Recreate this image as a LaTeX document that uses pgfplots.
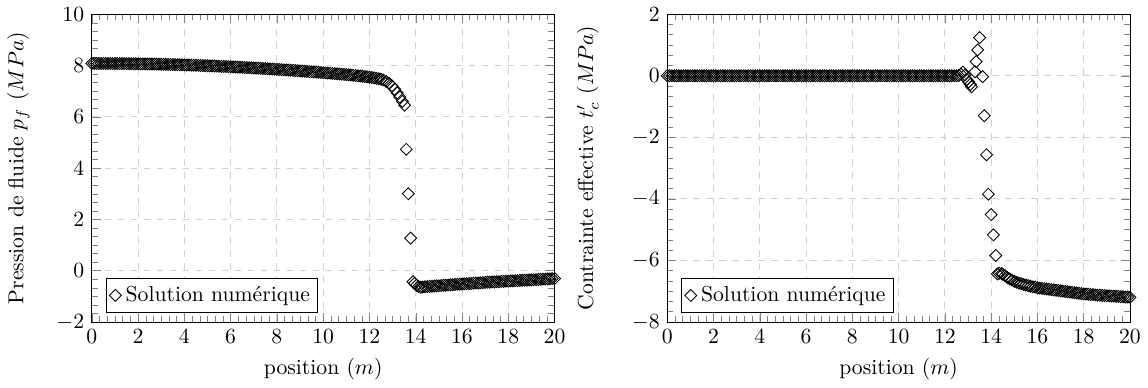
\documentclass[border=0pt]{standalone}
\usepackage{pgfplots}
\pgfplotsset{compat=1.18}
\usepackage{pgfplotstable}

\pgfplotstableread[row sep=\\]{
x y\\
0 8.080\\ 0.1 8.080\\ 0.2 8.080\\ 0.3 8.080\\ 0.4 8.079\\ 0.5 8.079\\ 0.6 8.079\\ 0.7 8.078\\ 0.8 8.078\\ 0.9 8.077\\
1.0 8.076\\ 1.1 8.076\\ 1.2 8.075\\ 1.3 8.074\\ 1.4 8.073\\ 1.5 8.072\\ 1.6 8.071\\ 1.7 8.070\\ 1.8 8.068\\ 1.9 8.067\\
2.0 8.066\\ 2.1 8.064\\ 2.2 8.063\\ 2.3 8.061\\ 2.4 8.059\\ 2.5 8.058\\ 2.6 8.056\\ 2.7 8.054\\ 2.8 8.052\\ 2.9 8.050\\
3.0 8.048\\ 3.1 8.045\\ 3.2 8.043\\ 3.3 8.041\\ 3.4 8.038\\ 3.5 8.036\\ 3.6 8.033\\ 3.7 8.031\\ 3.8 8.028\\ 3.9 8.025\\
4.0 8.022\\ 4.1 8.020\\ 4.2 8.017\\ 4.3 8.013\\ 4.4 8.010\\ 4.5 8.007\\ 4.6 8.004\\ 4.7 8.000\\ 4.8 7.997\\ 4.9 7.994\\
5.0 7.990\\ 5.1 7.986\\ 5.2 7.983\\ 5.3 7.979\\ 5.4 7.975\\ 5.5 7.971\\ 5.6 7.967\\ 5.7 7.963\\ 5.8 7.959\\ 5.9 7.955\\
6.0 7.950\\ 6.1 7.946\\ 6.2 7.942\\ 6.3 7.937\\ 6.4 7.933\\ 6.5 7.928\\ 6.6 7.923\\ 6.7 7.918\\ 6.8 7.914\\ 6.9 7.909\\
7.0 7.904\\ 7.1 7.899\\ 7.2 7.893\\ 7.3 7.888\\ 7.4 7.883\\ 7.5 7.878\\ 7.6 7.872\\ 7.7 7.867\\ 7.8 7.861\\ 7.9 7.855\\
8.0 7.850\\ 8.1 7.844\\ 8.2 7.838\\ 8.3 7.832\\ 8.4 7.826\\ 8.5 7.820\\ 8.6 7.814\\ 8.7 7.808\\ 8.8 7.801\\ 8.9 7.795\\
9.0 7.788\\ 9.1 7.782\\ 9.2 7.775\\ 9.3 7.769\\ 9.4 7.762\\ 9.5 7.755\\ 9.6 7.748\\ 9.7 7.741\\ 9.8 7.734\\ 9.9 7.727\\
10.0 7.720\\ 10.1 7.713\\ 10.2 7.705\\ 10.3 7.698\\ 10.4 7.691\\ 10.5 7.683\\ 10.6 7.676\\ 10.7 7.668\\ 10.8 7.660\\ 10.9 7.652\\
11.0 7.644\\ 11.1 7.636\\ 11.2 7.627\\ 11.3 7.618\\ 11.4 7.609\\ 11.5 7.599\\ 11.6 7.589\\ 11.7 7.578\\ 11.8 7.567\\ 11.9 7.555\\
12.0 7.543\\ 12.1 7.530\\ 12.2 7.516\\ 12.3 7.500\\ 12.4 7.482\\ 12.5 7.462\\ 12.6 7.437\\
12.73 7.37\\ 12.85 7.30\\ 12.97 7.21\\ 13.09 7.08\\ 13.20 6.93\\ 13.31 6.77\\ 13.42 6.60\\ 13.52 6.45\\
13.59 4.73\\ 13.68 3.00\\ 13.78 1.27\\
13.88 -0.43\\ 13.95 -0.50\\ 14.03 -0.57\\ 14.12 -0.62\\ 14.22 -0.65\\
14.3 -0.64\\ 14.4 -0.63\\ 14.5 -0.62\\ 14.6 -0.61\\ 14.7 -0.61\\ 14.8 -0.60\\ 14.9 -0.59\\
15.0 -0.59\\ 15.1 -0.58\\ 15.2 -0.57\\ 15.3 -0.57\\ 15.4 -0.56\\ 15.5 -0.55\\ 15.6 -0.55\\ 15.7 -0.54\\ 15.8 -0.53\\ 15.9 -0.53\\
16.0 -0.52\\ 16.1 -0.51\\ 16.2 -0.51\\ 16.3 -0.50\\ 16.4 -0.50\\ 16.5 -0.49\\ 16.6 -0.48\\ 16.7 -0.48\\ 16.8 -0.47\\ 16.9 -0.47\\
17.0 -0.46\\ 17.1 -0.45\\ 17.2 -0.45\\ 17.3 -0.44\\ 17.4 -0.44\\ 17.5 -0.43\\ 17.6 -0.43\\ 17.7 -0.42\\ 17.8 -0.42\\ 17.9 -0.41\\
18.0 -0.41\\ 18.1 -0.40\\ 18.2 -0.40\\ 18.3 -0.39\\ 18.4 -0.39\\ 18.5 -0.38\\ 18.6 -0.38\\ 18.7 -0.37\\ 18.8 -0.37\\ 18.9 -0.36\\
19.0 -0.36\\ 19.1 -0.35\\ 19.2 -0.35\\ 19.3 -0.34\\ 19.4 -0.34\\ 19.5 -0.33\\ 19.6 -0.33\\ 19.7 -0.32\\ 19.8 -0.32\\ 19.9 -0.31\\
20.0 -0.31\\
}\pressure

\pgfplotstableread[row sep=\\]{
x y\\
0 0\\ 0.1 0\\ 0.2 0\\ 0.3 0\\ 0.4 0\\ 0.5 0\\ 0.6 0\\ 0.7 0\\ 0.8 0\\ 0.9 0\\
1.0 0\\ 1.1 0\\ 1.2 0\\ 1.3 0\\ 1.4 0\\ 1.5 0\\ 1.6 0\\ 1.7 0\\ 1.8 0\\ 1.9 0\\
2.0 0\\ 2.1 0\\ 2.2 0\\ 2.3 0\\ 2.4 0\\ 2.5 0\\ 2.6 0\\ 2.7 0\\ 2.8 0\\ 2.9 0\\
3.0 0\\ 3.1 0\\ 3.2 0\\ 3.3 0\\ 3.4 0\\ 3.5 0\\ 3.6 0\\ 3.7 0\\ 3.8 0\\ 3.9 0\\
4.0 0\\ 4.1 0\\ 4.2 0\\ 4.3 0\\ 4.4 0\\ 4.5 0\\ 4.6 0\\ 4.7 0\\ 4.8 0\\ 4.9 0\\
5.0 0\\ 5.1 0\\ 5.2 0\\ 5.3 0\\ 5.4 0\\ 5.5 0\\ 5.6 0\\ 5.7 0\\ 5.8 0\\ 5.9 0\\
6.0 0\\ 6.1 0\\ 6.2 0\\ 6.3 0\\ 6.4 0\\ 6.5 0\\ 6.6 0\\ 6.7 0\\ 6.8 0\\ 6.9 0\\
7.0 0\\ 7.1 0\\ 7.2 0\\ 7.3 0\\ 7.4 0\\ 7.5 0\\ 7.6 0\\ 7.7 0\\ 7.8 0\\ 7.9 0\\
8.0 0\\ 8.1 0\\ 8.2 0\\ 8.3 0\\ 8.4 0\\ 8.5 0\\ 8.6 0\\ 8.7 0\\ 8.8 0\\ 8.9 0\\
9.0 0\\ 9.1 0\\ 9.2 0\\ 9.3 0\\ 9.4 0\\ 9.5 0\\ 9.6 0\\ 9.7 0\\ 9.8 0\\ 9.9 0\\
10.0 0\\ 10.1 0\\ 10.2 0\\ 10.3 0\\ 10.4 0\\ 10.5 0\\ 10.6 0\\ 10.7 0\\ 10.8 0\\ 10.9 0\\
11.0 0\\ 11.1 0\\ 11.2 0\\ 11.3 0\\ 11.4 0\\ 11.5 0\\ 11.6 0\\ 11.7 0\\ 11.8 0\\ 11.9 0\\
12.0 0\\ 12.1 0\\ 12.2 0\\ 12.3 0\\ 12.4 0\\ 12.5 0\\ 12.6 0.01\\
12.7 0.05\\ 12.78 0.12\\ 12.86 0.02\\ 12.95 -0.12\\ 13.03 -0.20\\ 13.10 -0.28\\ 13.15 -0.36\\
13.30 0.13\\ 13.35 0.46\\ 13.42 0.84\\ 13.50 1.24\\ 13.63 -0.03\\ 13.70 -1.30\\ 13.80 -2.57\\
13.88 -3.85\\ 14.00 -4.51\\ 14.10 -5.17\\ 14.20 -5.84\\ 14.27 -6.44\\
14.35 -6.42\\ 14.45 -6.43\\ 14.5 -6.45\\ 14.6 -6.50\\ 14.7 -6.56\\ 14.8 -6.60\\ 14.9 -6.64\\
15.0 -6.68\\ 15.1 -6.71\\ 15.2 -6.74\\ 15.3 -6.76\\ 15.4 -6.78\\ 15.5 -6.80\\ 15.6 -6.82\\ 15.7 -6.84\\ 15.8 -6.86\\ 15.9 -6.87\\
16.0 -6.89\\ 16.1 -6.90\\ 16.2 -6.91\\ 16.3 -6.92\\ 16.4 -6.93\\ 16.5 -6.94\\ 16.6 -6.95\\ 16.7 -6.96\\ 16.8 -6.97\\ 16.9 -6.98\\
17.0 -6.99\\ 17.1 -7.00\\ 17.2 -7.01\\ 17.3 -7.02\\ 17.4 -7.03\\ 17.5 -7.04\\ 17.6 -7.05\\ 17.7 -7.06\\ 17.8 -7.07\\ 17.9 -7.08\\
18.0 -7.09\\ 18.1 -7.09\\ 18.2 -7.10\\ 18.3 -7.11\\ 18.4 -7.11\\ 18.5 -7.12\\ 18.6 -7.13\\ 18.7 -7.13\\ 18.8 -7.14\\ 18.9 -7.14\\
19.0 -7.15\\ 19.1 -7.15\\ 19.2 -7.16\\ 19.3 -7.16\\ 19.4 -7.17\\ 19.5 -7.17\\ 19.6 -7.18\\ 19.7 -7.18\\ 19.8 -7.19\\ 19.9 -7.19\\
20.0 -7.20\\
}\stress

\pgfplotsset{
  myaxis/.style={
    scale only axis,
    width=213.5pt, height=142pt,
    xmin=0, xmax=20,
    xtick={0,2,...,20},
    minor tick num=5,
    grid=major,
    major grid style={dashed, gray!35},
    xlabel={position $(m)$},
    legend pos=south west,
    legend cell align=left,
    legend style={draw=black, inner sep=1.5pt},
    clip=false,
  },
  mymarks/.style={only marks, mark=square, mark size=1.95pt,
    mark options={rotate=45, black, line width=0.4pt}},
}

\begin{document}
\begin{tikzpicture}
\begin{axis}[myaxis,
  ymin=-2, ymax=10, ytick={-2,0,...,10},
  ylabel shift=5.5pt,
  ylabel={Pression de fluide $p_f$ $(MPa)$}]
\addplot[mymarks] table {\pressure};
\addlegendentry{Solution numérique}
\end{axis}
\begin{axis}[myaxis, at={(265.5pt,0)},
  ymin=-8, ymax=2, ytick={-8,-6,...,2},
  ylabel shift=8.5pt,
  ylabel={Contrainte effective $t'_c$ $(MPa)$}]
\addplot[mymarks] table {\stress};
\addlegendentry{Solution numérique}
\end{axis}
\end{tikzpicture}
\end{document}
